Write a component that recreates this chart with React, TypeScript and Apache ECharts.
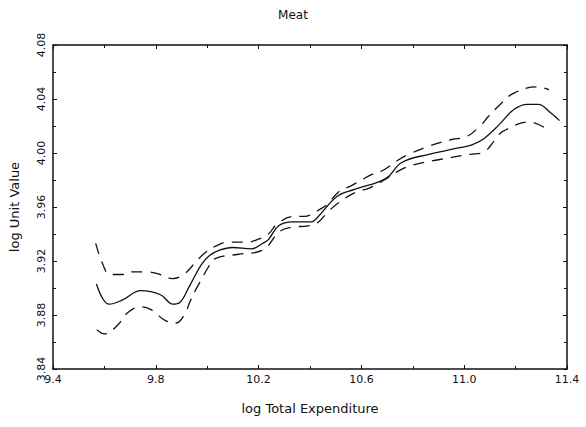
import React, { useEffect, useRef } from "react";
import * as echarts from "echarts";

const titleText = "Meat";
const xName = "log Total Expenditure";
const yName = "log Unit Value";

const solidX = [9.569, 9.594, 9.618, 9.669, 9.742, 9.818, 9.867, 9.892, 9.93, 9.976, 10.009, 10.048, 10.099, 10.172, 10.215, 10.239, 10.277, 10.332, 10.406, 10.428, 10.506, 10.573, 10.694, 10.757, 10.862, 10.983, 11.03, 11.079, 11.136, 11.192, 11.245, 11.288, 11.335, 11.371];
const solidY = [3.903, 3.892, 3.888, 3.891, 3.898, 3.895, 3.888, 3.889, 3.901, 3.917, 3.924, 3.928, 3.93, 3.929, 3.933, 3.936, 3.946, 3.949, 3.949, 3.952, 3.968, 3.973, 3.981, 3.993, 3.999, 4.004, 4.006, 4.011, 4.021, 4.032, 4.036, 4.036, 4.03, 4.024];

const upperX = [9.566, 9.595, 9.621, 9.669, 9.712, 9.766, 9.816, 9.864, 9.908, 9.95, 9.985, 10.033, 10.083, 10.158, 10.197, 10.238, 10.275, 10.337, 10.377, 10.427, 10.468, 10.51, 10.563, 10.639, 10.683, 10.745, 10.784, 10.862, 10.952, 11.008, 11.062, 11.094, 11.14, 11.19, 11.28, 11.33];
const upperY = [3.933, 3.917, 3.91, 3.91, 3.912, 3.912, 3.91, 3.907, 3.91, 3.918, 3.925, 3.931, 3.934, 3.934, 3.936, 3.94, 3.948, 3.953, 3.953, 3.957, 3.962, 3.971, 3.976, 3.984, 3.987, 3.995, 3.999, 4.005, 4.01, 4.012, 4.02, 4.027, 4.036, 4.044, 4.049, 4.047];

const lowerX = [9.571, 9.6, 9.654, 9.686, 9.74, 9.781, 9.836, 9.878, 9.914, 9.931, 9.956, 9.974, 10.003, 10.033, 10.121, 10.215, 10.283, 10.33, 10.391, 10.427, 10.473, 10.51, 10.578, 10.631, 10.697, 10.738, 10.798, 10.9, 11.023, 11.069, 11.122, 11.15, 11.256, 11.311];
const lowerY = [3.869, 3.866, 3.873, 3.881, 3.886, 3.884, 3.876, 3.874, 3.881, 3.889, 3.899, 3.905, 3.915, 3.922, 3.925, 3.928, 3.942, 3.945, 3.946, 3.948, 3.957, 3.963, 3.971, 3.974, 3.981, 3.986, 3.991, 3.995, 3.999, 4.0, 4.01, 4.016, 4.023, 4.019];

const xMin = 9.4, xMax = 11.4, xStep = 0.4;
const yMin = 3.84, yMax = 4.08, yStep = 0.04;

const pairs = (xs: number[], ys: number[]) => xs.map((x, i) => [x, ys[i]]);

const FONT = "DejaVu Sans";
const INK = "#111";

export default function App() {
  const ref = useRef<HTMLDivElement>(null);
  useEffect(() => {
    const chart = echarts.init(ref.current!, null, { renderer: "svg" });
    const frameLine = { show: true, lineStyle: { color: INK, width: 1.5 } };
    const tick = { show: true, inside: true, length: 4, lineStyle: { color: INK } };
    const minor = { show: true, splitNumber: 2, length: 3, lineStyle: { color: INK } };
    chart.setOption({
      animation: false,
      backgroundColor: "#fff",
      title: {
        text: titleText,
        left: "center",
        top: 4,
        textStyle: { fontFamily: FONT, fontSize: 12, fontWeight: "normal", color: INK },
      },
      grid: { left: 47, right: 19, top: 45, bottom: 58 },
      xAxis: [
        {
          type: "value",
          min: xMin,
          max: xMax,
          interval: xStep,
          name: xName,
          nameLocation: "middle",
          nameGap: 33,
          nameTextStyle: { fontFamily: FONT, fontSize: 13, color: INK },
          axisLine: frameLine,
          axisTick: tick,
          minorTick: minor,
          splitLine: { show: false },
          axisLabel: {
            fontFamily: FONT,
            fontSize: 11,
            color: INK,
            margin: 5,
            formatter: (v: number) => v.toFixed(1),
          },
        },
        {
          type: "value",
          position: "top",
          min: xMin,
          max: xMax,
          interval: xStep,
          axisLine: frameLine,
          axisTick: tick,
          minorTick: minor,
          splitLine: { show: false },
          axisLabel: { show: false },
        },
      ],
      yAxis: [
        {
          type: "value",
          min: yMin,
          max: yMax,
          interval: yStep,
          name: yName,
          nameLocation: "middle",
          nameGap: 32,
          nameRotate: 90,
          nameTextStyle: { fontFamily: FONT, fontSize: 13, color: INK },
          axisLine: frameLine,
          axisTick: tick,
          minorTick: minor,
          splitLine: { show: false },
          axisLabel: {
            rotate: 90,
            fontFamily: FONT,
            fontSize: 11,
            color: INK,
            margin: 6,
            formatter: (v: number) => v.toFixed(2),
          },
        },
        {
          type: "value",
          position: "right",
          min: yMin,
          max: yMax,
          interval: yStep,
          axisLine: frameLine,
          axisTick: tick,
          minorTick: minor,
          splitLine: { show: false },
          axisLabel: { show: false },
        },
      ],
      series: [
        {
          type: "line",
          name: "estimate",
          data: pairs(solidX, solidY),
          smooth: 0.4,
          showSymbol: false,
          lineStyle: { color: INK, width: 1.3, type: "solid" },
        },
        {
          type: "line",
          name: "upper",
          data: pairs(upperX, upperY),
          smooth: 0.4,
          showSymbol: false,
          lineStyle: { color: INK, width: 1.3, type: [11, 8] },
        },
        {
          type: "line",
          name: "lower",
          data: pairs(lowerX, lowerY),
          smooth: 0.4,
          showSymbol: false,
          lineStyle: { color: INK, width: 1.3, type: [11, 8] },
        },
      ],
    });
    return () => chart.dispose();
  }, []);
  return (
    <div
      ref={ref}
      style={{ position: "absolute", left: 0, top: 0, width: 586, height: 427 }}
    />
  );
}
